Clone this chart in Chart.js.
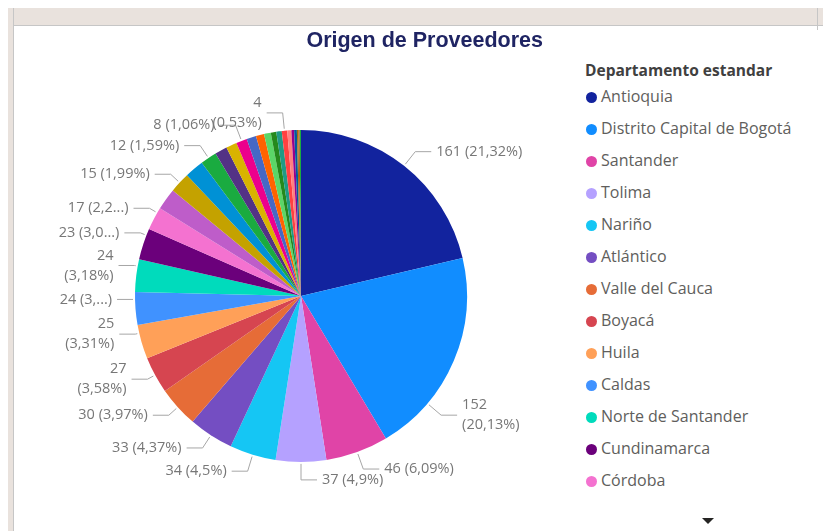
<!DOCTYPE html>
<html>
<head>
<meta charset="utf-8">
<script src="https://cdn.jsdelivr.net/npm/chart.js@4.4.1/dist/chart.umd.min.js"></script>
<style>
  html, body { margin: 0; padding: 0; background: #fff; }
  body { width: 823px; height: 531px; overflow: hidden; position: relative; font-family: "Open Sans", "Noto Sans", sans-serif; }
  .band { position: absolute; left: 8px; top: 8px; right: 0; height: 17px; background: #e9e2dd; border-bottom: 1px solid #c6c6c6; }
  .side { position: absolute; left: 8px; top: 8px; width: 5px; bottom: 0; background: #e9e2dd; border-right: 1px solid #c6c6c6; }
  .tick { position: absolute; left: 817px; top: 8px; width: 1px; height: 22px; background: #c6c6c6; }
  #chart { position: absolute; left: 14px; top: 26px; }
  #legend { position: absolute; left: 585px; top: 58px; color: #605e5c; }
  #legend .ttl { font-weight: 700; font-size: 15.5px; color: #404040; height: 24px; line-height: 24px; margin-bottom: -2px; }
  #legend .item { height: 32px; line-height: 32px; font-size: 16px; white-space: nowrap; }
  #legend .dot { display: inline-block; width: 11px; height: 11px; border-radius: 50%; margin: 0 4px 0 1px; vertical-align: -1px; }
  .more { position: absolute; left: 702px; top: 518px; width: 0; height: 0; border-left: 6px solid transparent; border-right: 6px solid transparent; border-top: 6px solid #252423; }
</style>
</head>
<body>
<div class="band"></div>
<div class="side"></div>
<div class="tick"></div>
<canvas id="chart" width="569" height="510"></canvas>
<div id="legend"></div>
<div class="more"></div>
<script>
// proveedores por departamento
const departamentos = ['Antioquia', 'Distrito Capital de Bogotá', 'Santander', 'Tolima', 'Nariño', 'Atlántico',
  'Valle del Cauca', 'Boyacá', 'Huila', 'Caldas', 'Norte de Santander', 'Cundinamarca', 'Córdoba',
  'Meta', 'Bolívar', 'Risaralda', 'Cesar', 'Quindío', 'Magdalena', 'Cauca', 'Sucre', 'Casanare',
  'La Guajira', 'Caquetá', 'Putumayo', 'Arauca', 'Chocó', 'San Andrés', 'Amazonas', 'Guaviare',
  'Vichada', 'Guainía'];
const proveedores = [161, 152, 46, 37, 34, 33, 30, 27, 25, 24, 24, 23, 17,
  16, 15, 14, 12, 9, 8, 8, 7, 6, 5, 4, 4, 4, 3, 2, 2, 1, 1, 1];
const colores = ['#12239E', '#118DFF', '#E044A7', '#B5A1FF', '#15C6F4', '#744EC2', '#E66C37', '#D64550',
  '#FFA058', '#4092FF', '#00DBBC', '#6B007B', '#F472D0', '#BE5DC9', '#C4A200', '#0091D5', '#1AAB40',
  '#533285', '#D9B300', '#EC008C', '#4668C5', '#FF6300', '#5BD667', '#25891C', '#1F9A85', '#FF4141',
  '#FF8080', '#99008A', '#0057A2', '#99700A', '#C94F0F', '#1AAB40'];

// which slices get a data label, and how Power BI squeezed them
const conEtiqueta = [0, 1, 2, 3, 4, 5, 6, 7, 8, 9, 10, 11, 12, 14, 16, 19, 25];
const enDosLineas = [1, 7, 8, 10, 25];
const recortadas = { 9: 2, 11: 3, 12: 3 };
const desplazadas = { 1: 0.74, 8: 0.76, 9: 0.78, 10: 0.79, 11: 0.79, 12: 0.78 };
const legendVisible = 13;

const total = proveedores.reduce((a, b) => a + b, 0);

function pct(v) {
    let s = (v / total * 100).toFixed(2).replace(/\.?0+$/, '');
    return s.replace('.', ',');
}

const outLabels = {
    id: 'outLabels',
    afterDatasetsDraw(chart) {
        const ctx = chart.ctx;
        const meta = chart.getDatasetMeta(0);
        ctx.save();
        ctx.font = '14.5px "Open Sans", "Noto Sans", sans-serif';
        ctx.textBaseline = 'middle';
        conEtiqueta.forEach(i => {
            const arc = meta.data[i];
            const p = arc.getProps(['x', 'y', 'startAngle', 'endAngle', 'outerRadius'], true);
            const f = desplazadas[i] !== undefined ? desplazadas[i] : 0.5;
            const a = p.startAngle + (p.endAngle - p.startAngle) * f;
            const c = Math.cos(a), s = Math.sin(a);
            const right = c > -1e-6;
            // left side labels sit closer to the pie near 9 o'clock
            const len = right ? 18 : Math.max(2, 18 * Math.abs(s));
            const x0 = p.x + c * (p.outerRadius + 2), y0 = p.y + s * (p.outerRadius + 2);
            const x1 = p.x + c * (p.outerRadius + len), y1 = p.y + s * (p.outerRadius + len);
            const x2 = x1 + (right ? 16 : -16);

            ctx.strokeStyle = '#a6a6a6';
            ctx.lineWidth = 1;
            ctx.beginPath();
            ctx.moveTo(x0, y0);
            ctx.lineTo(x1, y1);
            ctx.lineTo(x2, y1);
            ctx.stroke();

            let p100 = pct(proveedores[i]);
            if (recortadas[i] !== undefined) p100 = p100.slice(0, recortadas[i]) + '...';
            else p100 += '%';
            const lines = enDosLineas.includes(i)
                ? [String(proveedores[i]), '(' + p100 + ')']
                : [proveedores[i] + ' (' + p100 + ')'];

            ctx.fillStyle = '#777777';
            ctx.textAlign = right ? 'left' : 'right';
            const tx = x2 + (right ? 5 : -5);
            lines.forEach((t, k) => {
                ctx.fillText(t, tx, y1 + (k - (lines.length - 1) / 2) * 20);
            });
        });
        ctx.restore();
    }
};

const chart = new Chart(document.getElementById('chart'), {
    type: 'pie',
    data: {
        labels: departamentos,
        datasets: [{
            data: proveedores,
            backgroundColor: colores,
            borderWidth: 0,
            radius: 166
        }]
    },
    options: {
        responsive: false,
        animation: false,
        layout: { padding: { left: 45, right: 40, top: 0, bottom: 0 } },
        plugins: {
            legend: { display: false },
            tooltip: { enabled: false },
            title: {
                display: true,
                text: 'Origen de Proveedores',
                align: 'end',
                color: '#1F2463',
                font: { family: '"Liberation Sans", Arial, sans-serif', size: 21.5, weight: 'bold', lineHeight: 1.2 },
                padding: { top: 2, bottom: 2 }
            }
        }
    },
    plugins: [outLabels]
});

// legend built from the chart's own legend items (only the first ones fit, rest scroll)
const legendEl = document.getElementById('legend');
const items = chart.options.plugins.legend.labels.generateLabels(chart).slice(0, legendVisible);
let html = '<div class="ttl">Departamento estandar</div>';
items.forEach(it => {
    html += '<div class="item"><span class="dot" style="background:' + it.fillStyle + '"></span>' + it.text + '</div>';
});
legendEl.innerHTML = html;
</script>
</body>
</html>
